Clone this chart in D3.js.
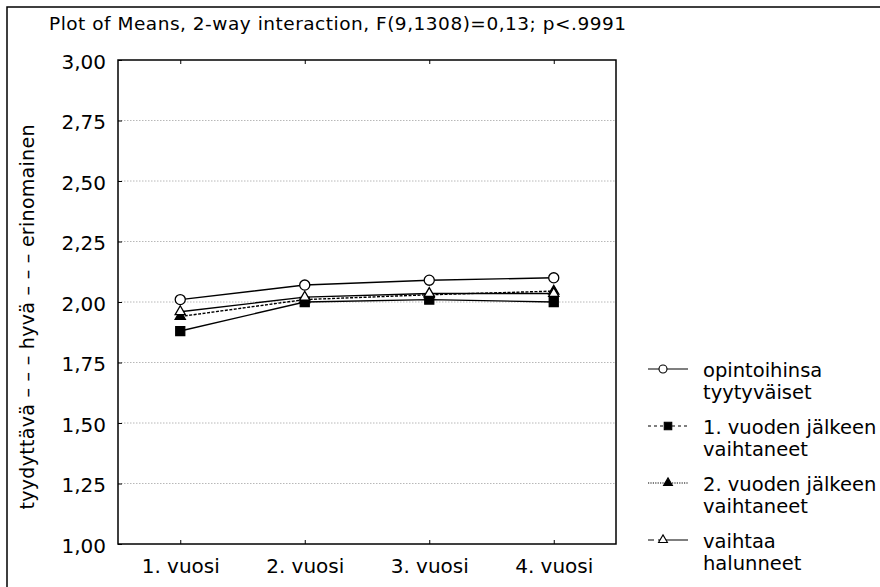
<!DOCTYPE html>
<html>
<head>
<meta charset="utf-8">
<script src="https://cdn.jsdelivr.net/npm/d3@7"></script>
<style>
  html, body { margin: 0; padding: 0; background: #fff; }
  svg { display: block; }
  text { font-family: "DejaVu Sans", sans-serif; fill: #000; }
</style>
</head>
<body>
<svg id="chart" width="880" height="587"></svg>
<script>
// ---- data ----
const categories = ["1. vuosi", "2. vuosi", "3. vuosi", "4. vuosi"];
const satisfied     = [2.01, 2.07, 2.09, 2.10];   // opintoihinsa tyytyväiset
const changedAfter1 = [1.88, 2.00, 2.01, 2.00];   // 1. vuoden jälkeen vaihtaneet
const changedAfter2 = [1.94, 2.01, 2.03, 2.045];  // 2. vuoden jälkeen vaihtaneet
const wantToChange  = [1.96, 2.02, 2.035, 2.035]; // vaihtaa halunneet
const seriesLabels = [
  ["opintoihinsa", "tyytyväiset"],
  ["1. vuoden jälkeen", "vaihtaneet"],
  ["2. vuoden jälkeen", "vaihtaneet"],
  ["vaihtaa", "halunneet"]
];
const yTicks = [1.00, 1.25, 1.50, 1.75, 2.00, 2.25, 2.50, 2.75, 3.00];
const titleText = "Plot of Means, 2-way interaction, F(9,1308)=0,13; p<.9991";
const yTitleText = "tyydyttävä – – – hyvä – – – erinomainen";

// ---- styles ----
const seriesData = [satisfied, changedAfter1, changedAfter2, wantToChange];
const styles = [
  { sym: d3.symbolCircle,   fill: "#fff", plotDash: null,    legDash: null,      size: 80, lsize: 50, lx: 663 },
  { sym: d3.symbolSquare,   fill: "#000", plotDash: null,    legDash: "3,3",     size: 81, lsize: 56, lx: 668 },
  { sym: d3.symbolTriangle, fill: "#000", plotDash: "3,1.5", legDash: "1.2,1.2", size: 45, lsize: 34, lx: 668 },
  { sym: d3.symbolTriangle, fill: "#fff", plotDash: null,    legDash: "6,4,40",  size: 45, lsize: 34, lx: 663 }
];

const svg = d3.select("#chart");
const L = 118, R = 616, T = 60, B = 544;

// outer frame
svg.append("rect").attr("x", 7).attr("y", 7).attr("width", 900).attr("height", 600)
  .attr("fill", "none").attr("stroke", "#000").attr("stroke-width", 1.5);

// title
svg.append("text").attr("x", 49).attr("y", 30)
  .attr("font-size", 18.5).attr("textLength", 577).attr("lengthAdjust", "spacing")
  .text(titleText);

const x = d3.scalePoint().domain(categories).range([L, R]).padding(0.5);
const y = d3.scaleLinear().domain([1, 3]).range([B, T]);
const fmt = v => d3.format(".2f")(v).replace(".", ",");

// gridlines
svg.append("g").selectAll("line")
  .data(yTicks.filter(v => v > 1 && v < 3))
  .join("line")
  .attr("x1", L).attr("x2", R)
  .attr("y1", d => y(d)).attr("y2", d => y(d))
  .attr("stroke", "#b8b8b8").attr("stroke-width", 1).attr("stroke-dasharray", "1.5,1.5");

// axes
const yAxis = svg.append("g").attr("transform", `translate(${L},0)`)
  .call(d3.axisLeft(y).tickValues(yTicks).tickFormat(fmt).tickSize(-4).tickPadding(12));
yAxis.selectAll("text").attr("font-size", 20).attr("dy", "0.4em");

const xAxis = svg.append("g").attr("transform", `translate(0,${B})`)
  .call(d3.axisBottom(x).tickSize(-4).tickPadding(15));
xAxis.selectAll("text").attr("font-size", 20);

const xTop = svg.append("g").attr("transform", `translate(0,${T})`)
  .call(d3.axisTop(x).tickSize(-4).tickFormat(""));

[yAxis, xAxis, xTop].forEach(g => {
  g.select(".domain").remove();
  g.selectAll("line").attr("stroke", "#000").attr("stroke-width", 1);
});

// frame
svg.append("rect").attr("x", L).attr("y", T).attr("width", R - L).attr("height", B - T)
  .attr("fill", "none").attr("stroke", "#000").attr("stroke-width", 1.5);

// y title
svg.append("text").attr("transform", "translate(34,317) rotate(-90)")
  .attr("text-anchor", "middle").attr("font-size", 19)
  .attr("textLength", 385).attr("lengthAdjust", "spacing")
  .text(yTitleText);

// series lines
const line = d3.line().x((d, i) => x(categories[i])).y(d => y(d));
seriesData.forEach((vals, s) => {
  svg.append("path").datum(vals).attr("d", line)
    .attr("fill", "none").attr("stroke", "#000").attr("stroke-width", 1.4)
    .attr("stroke-dasharray", styles[s].plotDash);
});
// markers
seriesData.forEach((vals, s) => {
  const st = styles[s];
  svg.append("g").selectAll("path").data(vals).join("path")
    .attr("transform", (d, i) => `translate(${x(categories[i])},${y(d)})`)
    .attr("d", d3.symbol().type(st.sym).size(st.size))
    .attr("fill", st.fill).attr("stroke", "#000").attr("stroke-width", 1.3);
});

// legend
const legY = [369, 426, 483, 540];
seriesLabels.forEach((lab, s) => {
  const st = styles[s];
  const g = svg.append("g").attr("transform", `translate(0,${legY[s]})`);
  g.append("line").attr("x1", 648).attr("x2", 688).attr("y1", 0).attr("y2", 0)
    .attr("stroke", "#000").attr("stroke-width", 1.2)
    .attr("stroke-dasharray", st.legDash);
  g.append("path").attr("transform", `translate(${st.lx},0)`)
    .attr("d", d3.symbol().type(st.sym).size(st.lsize))
    .attr("fill", st.fill).attr("stroke", "#000").attr("stroke-width", 1.1);
  lab.forEach((t, k) => {
    g.append("text").attr("x", 703).attr("y", 8 + k * 22).attr("font-size", 19.5).text(t);
  });
});
</script>
</body>
</html>
